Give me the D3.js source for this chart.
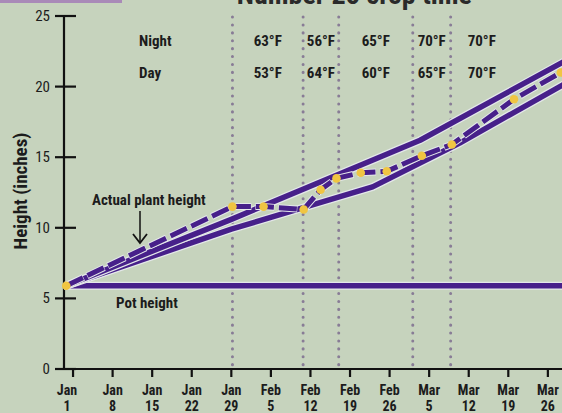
<!DOCTYPE html>
<html>
<head>
<meta charset="utf-8">
<script src="https://cdn.jsdelivr.net/npm/d3@7"></script>
<style>
  body { margin: 0; background: #c6d3bd; }
  svg { display: block; }
  text { font-family: "Liberation Sans Narrow", "Roboto Condensed", "DejaVu Sans Condensed", "Liberation Sans", sans-serif; fill: #1c1c1c; }
</style>
</head>
<body>
<div id="chart"></div>
<script>
// x values are days counted from Jan 1
var tickDays = [0, 7, 14, 21, 28, 35, 42, 49, 56, 63, 70, 77, 84];
var tickMonths = ["Jan", "Jan", "Jan", "Jan", "Jan", "Feb", "Feb", "Feb", "Feb", "Mar", "Mar", "Mar", "Mar"];
var tickDates = ["1", "8", "15", "22", "29", "5", "12", "19", "26", "5", "12", "19", "26"];
var yTicks = [0, 5, 10, 15, 20, 25];

// actual plant height (dashed line, yellow dots)
var actualDays = [-1.2, 28.2, 33.7, 40.8, 43.8, 46.6, 50.9, 55.5, 61.7, 67.0, 78.0, 86.3];
var actualHeight = [5.9, 11.5, 11.5, 11.3, 12.7, 13.5, 13.9, 14.0, 15.1, 15.9, 19.1, 21.0];

// expected growth band
var upperDays = [-1.2, 28, 61.4, 87];
var upperHeight = [5.9, 10.6, 16.2, 21.8];
var lowerDays = [-1.2, 28, 53, 68.4, 87];
var lowerHeight = [5.9, 9.9, 12.9, 16.0, 20.2];

var potHeight = 5.9;

// temperature periods
var dividerDays = [28.2, 40.7, 47.0, 60.1, 66.8];
var nightTemps = ["63°F", "56°F", "65°F", "70°F", "70°F"];
var dayTemps = ["53°F", "64°F", "60°F", "65°F", "70°F"];

var width = 562, height = 413;
var purple = "#47208a";

var svg = d3.select("#chart").append("svg")
  .attr("width", width)
  .attr("height", height);

svg.append("rect")
  .attr("width", width).attr("height", height)
  .attr("fill", "#c6d3bd");

// header bar and title, cut off at the top of the picture
svg.append("rect")
  .attr("x", 0).attr("y", 0).attr("width", 122).attr("height", 3)
  .attr("fill", "#a98ab8");
svg.append("text")
  .attr("x", 472).attr("y", 4)
  .attr("text-anchor", "end")
  .style("font-size", "28px").style("font-weight", "bold")
  .style("fill", "#2a2a2a")
  .text("Number 25 crop time");

var xScale = d3.scaleLinear()
  .domain([-1.6, 86.5])
  .range([64, 562]);

var yScale = d3.scaleLinear()
  .domain([0, 25])
  .range([369, 16]);

// dotted dividers
svg.selectAll(".divider")
  .data(dividerDays)
  .enter()
  .append("line")
  .attr("class", "divider")
  .attr("x1", d => xScale(d))
  .attr("x2", d => xScale(d))
  .attr("y1", 17)
  .attr("y2", yScale(0))
  .attr("stroke", "#887c96")
  .attr("stroke-width", 3)
  .attr("stroke-linecap", "round")
  .attr("stroke-dasharray", "0.1 7.8");

// temperature labels
var colCenters = dividerDays.map(function(d, i) {
  var next = i < dividerDays.length - 1 ? dividerDays[i + 1] : d + 11;
  return (d + next) / 2;
});

svg.append("text").attr("x", 139).attr("y", 46)
  .style("font-size", "15px").style("font-weight", "bold").text("Night");
svg.append("text").attr("x", 139).attr("y", 78)
  .style("font-size", "15px").style("font-weight", "bold").text("Day");

svg.selectAll(".night")
  .data(nightTemps)
  .enter()
  .append("text")
  .attr("x", (d, i) => xScale(colCenters[i]))
  .attr("y", 46)
  .attr("text-anchor", "middle")
  .style("font-size", "15px").style("font-weight", "bold")
  .text(d => d);

svg.selectAll(".day")
  .data(dayTemps)
  .enter()
  .append("text")
  .attr("x", (d, i) => xScale(colCenters[i]))
  .attr("y", 78)
  .attr("text-anchor", "middle")
  .style("font-size", "15px").style("font-weight", "bold")
  .text(d => d);

// axes
var chart = svg.append("g");

chart.append("line")
  .attr("x1", 64).attr("x2", 64)
  .attr("y1", yScale(25)).attr("y2", yScale(0))
  .attr("stroke", "#111").attr("stroke-width", 2.2);

chart.selectAll(".ytick")
  .data(yTicks)
  .enter()
  .append("line")
  .attr("x1", 55).attr("x2", 76)
  .attr("y1", d => yScale(d)).attr("y2", d => yScale(d))
  .attr("stroke", "#111").attr("stroke-width", 2.2);

chart.selectAll(".ylabel")
  .data(yTicks)
  .enter()
  .append("text")
  .attr("x", 50)
  .attr("y", d => yScale(d) + 5)
  .attr("text-anchor", "end")
  .style("font-size", "15px")
  .text(d => d);

chart.append("text")
  .attr("transform", "translate(27,191) rotate(-90)")
  .attr("text-anchor", "middle")
  .style("font-size", "19px").style("font-weight", "bold")
  .text("Height (inches)");

chart.append("line")
  .attr("x1", 63).attr("x2", 562)
  .attr("y1", yScale(0)).attr("y2", yScale(0))
  .attr("stroke", "#111").attr("stroke-width", 2.2);

chart.selectAll(".xtick")
  .data(tickDays)
  .enter()
  .append("line")
  .attr("x1", d => xScale(d)).attr("x2", d => xScale(d))
  .attr("y1", yScale(0)).attr("y2", yScale(0) + 8)
  .attr("stroke", "#111").attr("stroke-width", 2.2);

var xl = chart.selectAll(".xlabel")
  .data(tickDays)
  .enter()
  .append("text")
  .attr("text-anchor", "middle")
  .attr("x", (d, i) => xScale(d) - (i === 0 ? 6 : 0))
  .style("font-size", "14px").style("font-weight", "bold");
xl.append("tspan").attr("y", 395).text((d, i) => tickMonths[i]);
xl.append("tspan").attr("y", 411)
  .attr("x", (d, i) => xScale(d) - (i === 0 ? 6 : 0))
  .text((d, i) => tickDates[i]);

// lines
var lineGen = d3.line()
  .x(d => xScale(d[0]))
  .y(d => yScale(d[1]));

var potData = [[-1.6, potHeight], [86.5, potHeight]];
var upperData = upperDays.map((d, i) => [d, upperHeight[i]]);
var lowerData = lowerDays.map((d, i) => [d, lowerHeight[i]]);
var actualData = actualDays.map((d, i) => [d, actualHeight[i]]);

[potData, lowerData, upperData].forEach(function(data) {
  chart.append("path")
    .datum(data)
    .attr("d", lineGen)
    .attr("fill", "none")
    .attr("stroke", "#e4e8ea")
    .attr("stroke-width", 8)
    .attr("stroke-linejoin", "round");
  chart.append("path")
    .datum(data)
    .attr("d", lineGen)
    .attr("fill", "none")
    .attr("stroke", purple)
    .attr("stroke-width", 5.5)
    .attr("stroke-linejoin", "round");
});

chart.append("path")
  .datum(actualData)
  .attr("d", lineGen)
  .attr("fill", "none")
  .attr("stroke", "#e4e8ea")
  .attr("stroke-width", 7)
  .attr("stroke-dasharray", "19 4");
chart.append("path")
  .datum(actualData)
  .attr("d", lineGen)
  .attr("fill", "none")
  .attr("stroke", purple)
  .attr("stroke-width", 5)
  .attr("stroke-dasharray", "18 5")
  .attr("stroke-dashoffset", -0.5);

chart.selectAll(".dot")
  .data(actualData)
  .enter()
  .append("circle")
  .attr("cx", d => xScale(d[0]))
  .attr("cy", d => yScale(d[1]))
  .attr("r", 4.3)
  .attr("fill", "#f0c542");

// annotations
svg.append("text").attr("x", 92).attr("y", 205)
  .style("font-size", "15px").style("font-weight", "bold")
  .text("Actual plant height");
svg.append("line")
  .attr("x1", 140).attr("x2", 140).attr("y1", 211).attr("y2", 242)
  .attr("stroke", "#111").attr("stroke-width", 1.5);
svg.append("path")
  .attr("d", "M133,234 L140,243 L147,234")
  .attr("fill", "none").attr("stroke", "#111").attr("stroke-width", 1.8);

svg.append("text").attr("x", 116).attr("y", 308)
  .style("font-size", "15px").style("font-weight", "bold")
  .text("Pot height");
</script>
</body>
</html>
